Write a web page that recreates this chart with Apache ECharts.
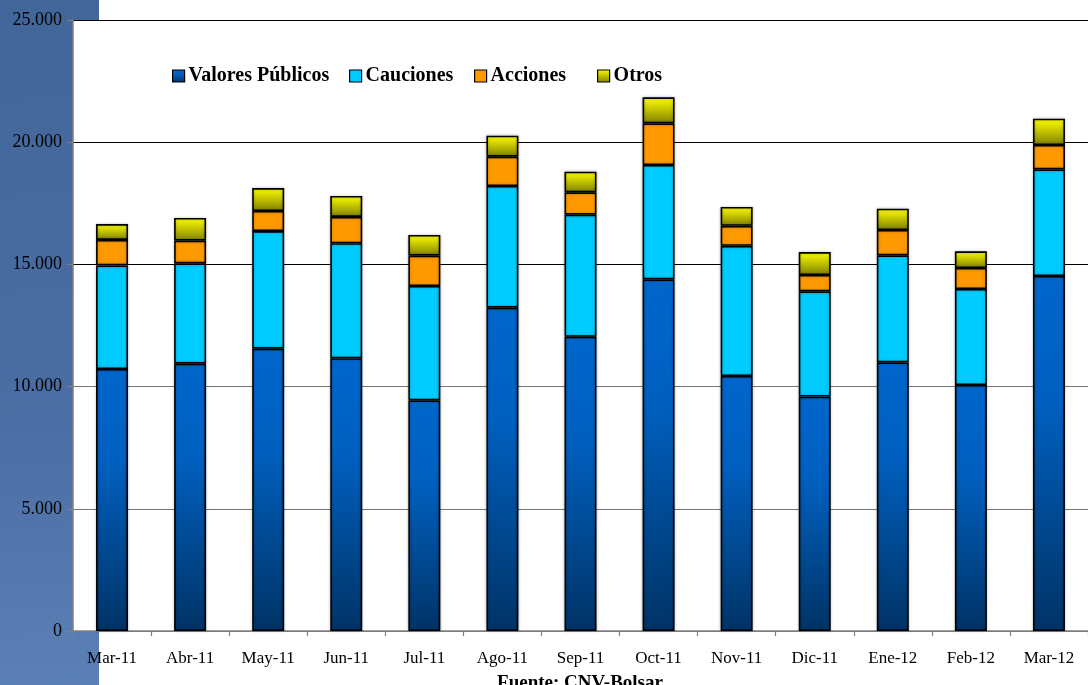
<!DOCTYPE html>
<html>
<head>
<meta charset="utf-8">
<script src="https://cdn.jsdelivr.net/npm/echarts@6/dist/echarts.min.js"></script>
<style>html,body{margin:0;padding:0;background:#fff;}#c{width:1088px;height:685px;}</style>
</head>
<body>
<div id="c"></div>
<script>
const categories = ['Mar-11','Abr-11','May-11','Jun-11','Jul-11','Ago-11','Sep-11','Oct-11','Nov-11','Dic-11','Ene-12','Feb-12','Mar-12'];
const valoresPublicos = [10720, 10940, 11550, 11160, 9440, 13230, 12040, 14390, 10434, 9590, 10995, 10065, 14525];
const cauciones =       [4240, 4105, 4815, 4705, 4676, 4978, 4994, 4677, 5325, 4310, 4377, 3928, 4366];
const acciones =        [1040, 925, 820, 1076, 1240, 1200, 916, 1706, 820, 666, 1036, 860, 994];
const otros =           [650, 930, 940, 860, 847, 860, 843, 1064, 770, 940, 872, 683, 1077];
const yTicks = [0, 5000, 10000, 15000, 20000, 25000];
const seriesNames = ['Valores Públicos', 'Cauciones', 'Acciones', 'Otros'];

const fontFam = '"Liberation Serif", "Times New Roman", serif';
const chart = echarts.init(document.getElementById('c'));

const gridLeft = 73, gridTop = 20, gridW = 1027, gridH = 611;
const legendLefts = [167, 344, 469, 592];

function mk(name, data, color) {
  return {
    name: name, type: 'bar', stack: 'total', data: data, barWidth: 32,
    itemStyle: { color: color, borderColor: '#000', borderWidth: 1.6,
      shadowColor: 'rgba(0,0,0,0.25)', shadowBlur: 3 },
    emphasis: { disabled: true }
  };
}

chart.setOption({
  animation: false,
  backgroundColor: '#fff',
  graphic: [
    { type: 'rect', z: -100, silent: true, shape: { x: 0, y: 0, width: 99, height: 685 },
      style: { fill: new echarts.graphic.LinearGradient(0, 0, 0.3, 1, [
        { offset: 0, color: '#42659a' }, { offset: 0.6, color: '#4a6da3' }, { offset: 1, color: '#5b80b6' }]) } },
    { type: 'rect', z: -99, silent: true, shape: { x: gridLeft, y: gridTop, width: gridW, height: gridH },
      style: { fill: '#fff' } },
    { type: 'text', x: 580, y: 674, silent: true,
      style: { text: 'Fuente: CNV-Bolsar', font: 'bold 19px ' + fontFam, fill: '#000', textAlign: 'center', textVerticalAlign: 'top' } }
  ],
  legend: seriesNames.map(function (n, i) {
    return {
      left: legendLefts[i], top: 61, icon: 'rect', itemWidth: 12, itemHeight: 12, itemGap: 0,
      textStyle: { fontFamily: fontFam, fontWeight: 'bold', fontSize: 20, color: '#000', padding: [0, 0, 0, -1] },
      itemStyle: { borderColor: '#000', borderWidth: 1.2 },
      data: [n]
    };
  }),
  grid: { left: gridLeft, top: gridTop, width: gridW, height: gridH, containLabel: false },
  xAxis: {
    type: 'category', data: categories,
    axisLine: { lineStyle: { color: '#808080', width: 1.5 } },
    axisTick: { show: true, length: 5, lineStyle: { color: '#808080', width: 1.2 } },
    axisLabel: { color: '#000', fontFamily: fontFam, fontSize: 17, margin: 19, interval: 0 }
  },
  yAxis: {
    type: 'value', min: 0, max: 25000, interval: 5000,
    axisLine: { show: true, lineStyle: { color: '#808080', width: 1.5 } },
    axisTick: { show: true, length: 6, lineStyle: { color: '#808080', width: 1.2 } },
    splitLine: { show: true, lineStyle: { color: ['#777', '#777', '#777', '#000', '#000', '#000'], width: 1.2 } },
    axisLabel: { color: '#000', fontFamily: fontFam, fontSize: 18, margin: 11,
      formatter: function (v) { return yTicks.indexOf(v) >= 0 ? (v === 0 ? '0' : (v / 1000).toFixed(3)) : ''; } }
  },
  series: [
    mk(seriesNames[0], valoresPublicos, new echarts.graphic.LinearGradient(0, 0, 0, 1, [
      { offset: 0, color: '#0066cc' }, { offset: 0.35, color: '#0060c0' }, { offset: 1, color: '#003366' }])),
    mk(seriesNames[1], cauciones, '#00ccff'),
    mk(seriesNames[2], acciones, '#ff9900'),
    mk(seriesNames[3], otros, new echarts.graphic.LinearGradient(0, 0, 0, 1, [
      { offset: 0, color: '#ffff00' }, { offset: 1, color: '#808000' }]))
  ]
});
</script>
</body>
</html>
